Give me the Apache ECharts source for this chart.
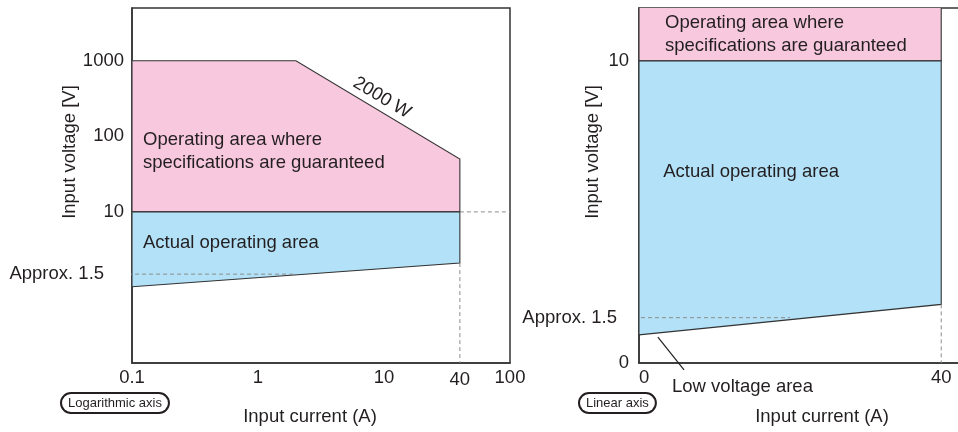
<!DOCTYPE html>
<html>
<head>
<meta charset="utf-8">
<script src="https://cdn.jsdelivr.net/npm/echarts@6/dist/echarts.min.js"></script>
<style>
  html, body { margin: 0; padding: 0; background: #fff; }
  #chart { width: 958px; height: 432px; }
</style>
</head>
<body>
<div id="chart"></div>
<script>
// ---------- data ----------
// Left chart (logarithmic axes)
const logXTicks = [0.1, 1, 10, 100];
const logYTicks = [10, 100, 1000];
const guaranteedCurrentLog = [0.1, 2, 40, 40, 0.1];
const guaranteedVoltageLog = [1000, 1000, 50, 10, 10];
const actualCurrentLog = [0.1, 40, 40, 0.1];
const actualVoltageLog = [10, 10, 2.1, 1.02];
const ratedCurrent = 40;
const approxMinVoltage = 1.5;
const specMinVoltage = 10;

// Right chart (linear axes)
const linXTicks = [0, 40];
const linYTicks = [0, 10];
const guaranteedCurrentLin = [0, 40, 40, 0];
const guaranteedVoltageLin = [10, 10, 12, 12];
const actualCurrentLin = [0, 40, 40, 0];
const actualVoltageLin = [10, 10, 1.94, 0.93];

// ---------- styles ----------
const FONT = "'Liberation Sans', Arial, Helvetica, sans-serif";
const FS = 18.5;
const TXT = '#231f20';
const EDGE = '#333333';
const PINK = '#f8c9de';
const BLUE = '#b2e1f8';
const DASH = '#8c8c8c';

function near(v, list) {
  return list.some(t => Math.abs(t - v) <= Math.abs(t) * 1e-6 + 1e-9);
}

function polygon(xi, yi, xs, ys, fill) {
  return {
    type: 'custom', xAxisIndex: xi, yAxisIndex: yi, clip: true, silent: true, z: 2,
    data: [[xs[0], ys[0]]],
    renderItem: (params, api) => ({
      type: 'polygon',
      shape: { points: xs.map((x, i) => api.coord([x, ys[i]])) },
      style: { fill: fill, stroke: EDGE, lineWidth: 1.1 }
    })
  };
}

function dashed(xi, yi, pts) {
  return {
    type: 'line', xAxisIndex: xi, yAxisIndex: yi, clip: false, silent: true, z: 3,
    symbol: 'none', data: pts,
    lineStyle: { color: DASH, width: 1, type: [4, 3] }
  };
}

function lbl(value, formatter, position, extra) {
  return {
    value: value,
    label: Object.assign({ show: true, formatter: formatter, position: position, distance: 0,
      color: TXT, opacity: 1, fontSize: FS, fontFamily: FONT, lineHeight: 23,
      textBorderWidth: 0 }, extra || {})
  };
}

function annotations(xi, yi, items) {
  return {
    type: 'scatter', xAxisIndex: xi, yAxisIndex: yi, clip: false, silent: true, z: 5,
    symbol: 'circle', symbolSize: 0, itemStyle: { color: TXT, opacity: 1 },
    emphasis: { disabled: true },
    data: items
  };
}

const axisLineStyle = { show: true, lineStyle: { color: EDGE, width: 1.5 } };
const labelStyle = { color: TXT, fontSize: FS, fontFamily: FONT };
const nameStyle = { color: TXT, fontSize: FS, fontFamily: FONT };

const option = {
  animation: false,
  backgroundColor: '#ffffff',
  grid: [
    { left: 132, top: 8, width: 378, height: 355, show: true, borderColor: EDGE, borderWidth: 1.5,
      backgroundColor: 'transparent', outerBoundsMode: 'none' },
    { left: 639, top: 8, width: 340, height: 355, show: true, borderColor: EDGE, borderWidth: 1.5,
      backgroundColor: 'transparent', outerBoundsMode: 'none' }
  ],
  xAxis: [
    {
      gridIndex: 0, type: 'log', logBase: 10, min: 0.1, max: 100,
      axisLine: axisLineStyle, axisTick: { show: false }, splitLine: { show: false },
      axisLabel: Object.assign({ margin: 5, formatter: v => near(v, logXTicks) ? String(+v.toPrecision(6)) : '' }, labelStyle),
      name: 'Input current (A)', nameLocation: 'middle', nameGap: 44,
      nameTextStyle: Object.assign({ padding: [0, 22, 0, 0] }, nameStyle)
    },
    {
      gridIndex: 1, type: 'value', min: 0, max: 45, interval: 40,
      axisLine: axisLineStyle, axisTick: { show: false }, splitLine: { show: false },
      axisLabel: Object.assign({ margin: 5, alignMinLabel: 'left', formatter: v => near(v, linXTicks) ? String(v) : '' }, labelStyle),
      name: 'Input current (A)', nameLocation: 'middle', nameGap: 44,
      nameTextStyle: Object.assign({ padding: [0, 0, 0, 26] }, nameStyle)
    }
  ],
  yAxis: [
    {
      gridIndex: 0, type: 'log', logBase: 10, min: 0.1, max: 5000,
      axisLine: axisLineStyle, axisTick: { show: false }, splitLine: { show: false },
      axisLabel: Object.assign({ margin: 8, formatter: v => near(v, logYTicks) ? String(Math.round(v)) : '' }, labelStyle),
      name: 'Input voltage [V]', nameLocation: 'middle', nameGap: 51,
      nameTextStyle: Object.assign({ padding: [0, 0, 0, 67] }, nameStyle)
    },
    {
      gridIndex: 1, type: 'value', min: 0, max: 11.75, interval: 10,
      axisLine: axisLineStyle, axisTick: { show: false }, splitLine: { show: false },
      axisLabel: Object.assign({ margin: 10, showMaxLabel: false, formatter: v => near(v, linYTicks) ? String(v) : '' }, labelStyle),
      name: 'Input voltage [V]', nameLocation: 'middle', nameGap: 37,
      nameTextStyle: Object.assign({ padding: [0, 0, 0, 67] }, nameStyle)
    }
  ],
  series: [
    // left chart
    polygon(0, 0, guaranteedCurrentLog, guaranteedVoltageLog, PINK),
    polygon(0, 0, actualCurrentLog, actualVoltageLog, BLUE),
    dashed(0, 0, [[ratedCurrent, specMinVoltage], [100, specMinVoltage]]),
    dashed(0, 0, [[ratedCurrent, actualVoltageLog[2]], [ratedCurrent, 0.1]]),
    dashed(0, 0, [[0.0634, approxMinVoltage], [2, approxMinVoltage]]),
    annotations(0, 0, [
      lbl([0.1223, 63.2], 'Operating area where\nspecifications are guaranteed', 'right'),
      lbl([0.1223, 3.88], 'Actual operating area', 'right'),
      lbl([9.64, 324], '2000 W', 'inside', { rotate: -31 }),
      lbl([0.0634, approxMinVoltage], 'Approx. 1.5', 'left', { distance: 3 }),
      lbl([ratedCurrent, 0.1], String(ratedCurrent), 'bottom', { distance: 5 })
    ]),
    // right chart
    polygon(1, 1, guaranteedCurrentLin, guaranteedVoltageLin, PINK),
    polygon(1, 1, actualCurrentLin, actualVoltageLin, BLUE),
    dashed(1, 1, [[-2.52, approxMinVoltage], [20, approxMinVoltage]]),
    dashed(1, 1, [[ratedCurrent, actualVoltageLin[2]], [ratedCurrent, 0]]),
    {
      type: 'line', xAxisIndex: 1, yAxisIndex: 1, clip: false, silent: true, z: 4,
      symbol: 'none', data: [[2.5, 0.86], [5.96, -0.23]],
      lineStyle: { color: TXT, width: 1.2 }
    },
    annotations(1, 1, [
      lbl([3.44, 10.88], 'Operating area where\nspecifications are guaranteed', 'right'),
      lbl([3.2, 6.32], 'Actual operating area', 'right'),
      lbl([4.37, -0.79], 'Low voltage area', 'right'),
      lbl([-2.52, approxMinVoltage], 'Approx. 1.5', 'left', { distance: 3 })
    ])
  ],
  graphic: [
    {
      type: 'text', left: 60, top: 392, z: 10,
      style: {
        text: 'Logarithmic axis', font: '13px ' + FONT, fill: TXT,
        backgroundColor: '#fff', borderColor: TXT, borderWidth: 2, borderRadius: 9, padding: [3, 6, 2, 6]
      }
    },
    {
      type: 'text', left: 578, top: 392, z: 10,
      style: {
        text: 'Linear axis', font: '13px ' + FONT, fill: TXT,
        backgroundColor: '#fff', borderColor: TXT, borderWidth: 2, borderRadius: 9, padding: [3, 6, 2, 6]
      }
    }
  ]
};

const chart = echarts.init(document.getElementById('chart'), null, { renderer: 'canvas' });
chart.setOption(option);
</script>
</body>
</html>
